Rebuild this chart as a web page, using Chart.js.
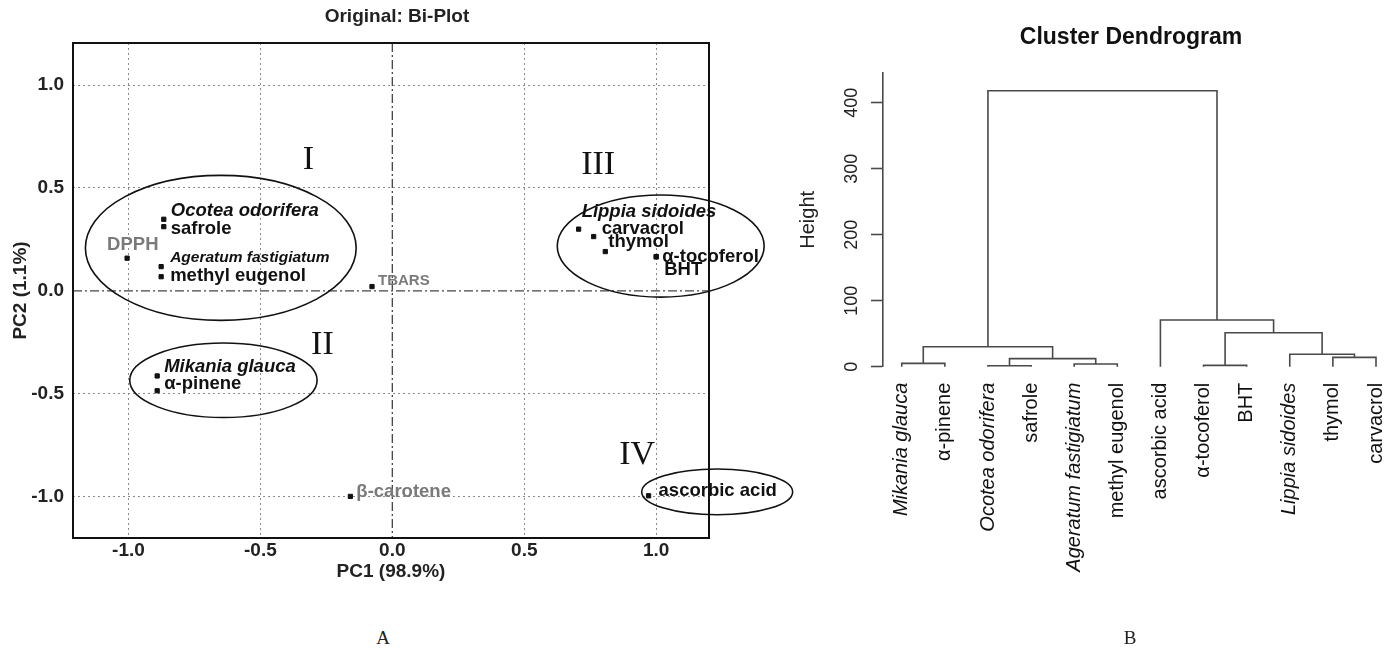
<!DOCTYPE html>
<html>
<head>
<meta charset="utf-8">
<script src="https://cdn.jsdelivr.net/npm/chart.js@4.4.1/dist/chart.umd.min.js"></script>
<style>
  body { margin: 0; background: #fff; width: 1388px; height: 649px; overflow: hidden; position: relative; }
  #biplotBox { position: absolute; left: 0; top: 0; width: 800px; height: 600px; }
  #dendroBox { position: absolute; left: 760px; top: 0; width: 628px; height: 649px; }
  .panel { position: absolute; top: 628px; width: 40px; text-align: center; line-height: 20px;
           font-family: "Liberation Serif", "Times New Roman", serif; font-size: 19px; color: #222; }
</style>
</head>
<body>
<div id="biplotBox"><canvas id="biplot" width="800" height="600"></canvas></div>
<div id="dendroBox"><canvas id="dendro" width="628" height="649"></canvas></div>
<div class="panel" style="left:363px">A</div>
<div class="panel" style="left:1110px">B</div>

<script>
// ---- Bi-plot data (PC1 / PC2 scores) ----
const sampleNames = ['Ocotea odorifera', 'safrole', 'Ageratum fastigiatum', 'methyl eugenol',
                     'Lippia sidoides', 'carvacrol', 'thymol', 'α-tocoferol', 'BHT',
                     'Mikania glauca', 'α-pinene', 'ascorbic acid'];
const samplePC1 = [-0.866, -0.866, -0.876, -0.876, 0.706, 0.763, 0.807, 1.0, 1.0, -0.891, -0.891, 0.971];
const samplePC2 = [0.348, 0.312, 0.118, 0.069, 0.300, 0.264, 0.191, 0.167, 0.165, -0.413, -0.485, -0.995];

const variableNames = ['DPPH', 'TBARS', 'β-carotene'];
const variablePC1 = [-1.005, -0.077, -0.159];
const variablePC2 = [0.159, 0.021, -0.998];

// groups circled on the bi-plot
const groupNames = ['I', 'II', 'III', 'IV'];
const groupCenterX = [-0.65, -0.64, 1.017, 1.231];
const groupCenterY = [0.209, -0.434, 0.218, -0.976];
const groupRadiusX = [0.513, 0.355, 0.392, 0.286];
const groupRadiusY = [0.352, 0.181, 0.248, 0.111];
const groupLabelX = [-0.318, -0.265, 0.78, 0.928];
const groupLabelY = [0.636, -0.262, 0.612, -0.796];

const pcTicks = [-1.0, -0.5, 0.0, 0.5, 1.0];

// ---- Dendrogram data ----
const leafNames = ['Mikania glauca', 'α-pinene', 'Ocotea odorifera', 'safrole', 'Ageratum fastigiatum',
                   'methyl eugenol', 'ascorbic acid', 'α-tocoferol', 'BHT', 'Lippia sidoides', 'thymol', 'carvacrol'];
const italicNames = ['Mikania glauca', 'Ocotea odorifera', 'Ageratum fastigiatum', 'Lippia sidoides'];
// hclust style: negative = leaf (1-based), positive = earlier merge (1-based)
const mergeLeft   = [-3, -8, -5, -1, 1, -11, -10, 4, 2, -7, 8];
const mergeRight  = [-4, -9, -6, -2, 3, -12, 6, 5, 7, 9, 10];
const mergeHeight = [1.5, 2, 4, 5, 12.3, 14.2, 18.8, 30.3, 51.5, 70.8, 418];
const heightTicks = [0, 100, 200, 300, 400];

const SANS = "'Liberation Sans', Arial, sans-serif";
Chart.defaults.font.family = SANS;
Chart.defaults.color = '#222';

// label placement (px from the point, left/middle of text)
const labelOffsets = {
  'DPPH': [-20, -13], 'Ocotea odorifera': [7, -8], 'safrole': [7, 2],
  'Ageratum fastigiatum': [9, -9], 'methyl eugenol': [9, -1], 'TBARS': [6, -6],
  'Lippia sidoides': [3, -17], 'carvacrol': [8, -8], 'thymol': [3, -10],
  'α-tocoferol': [6, 0], 'BHT': [8, 13], 'Mikania glauca': [7, -9], 'α-pinene': [7, -7],
  'β-carotene': [6, -5], 'ascorbic acid': [10, -5]
};
const labelSizes = { 'Ageratum fastigiatum': 15.5, 'TBARS': 15 };

const biplotDecor = {
  id: 'biplotDecor',
  afterDatasetsDraw(chart) {
    const ctx = chart.ctx;
    const xs = chart.scales.x, ys = chart.scales.y;
    const a = chart.chartArea;
    ctx.save();

    // zero lines (dash-dot)
    ctx.strokeStyle = '#444';
    ctx.lineWidth = 1.3;
    ctx.setLineDash([9, 3, 2, 3]);
    const x0 = xs.getPixelForValue(0), y0 = ys.getPixelForValue(0);
    ctx.beginPath();
    ctx.moveTo(x0, a.top); ctx.lineTo(x0, a.bottom);
    ctx.moveTo(a.left, y0); ctx.lineTo(a.right, y0);
    ctx.stroke();
    ctx.setLineDash([]);

    // frame
    ctx.strokeStyle = '#111';
    ctx.lineWidth = 2;
    ctx.strokeRect(a.left, a.top, a.right - a.left, a.bottom - a.top);

    // point labels
    ctx.textBaseline = 'middle';
    ctx.textAlign = 'left';
    chart.data.datasets.forEach(ds => {
      ctx.fillStyle = ds.labelColor;
      ds.data.forEach(p => {
        const off = labelOffsets[p.name] || [6, 0];
        const style = italicNames.includes(p.name) ? 'italic ' : '';
        const size = labelSizes[p.name] || 18.5;
        ctx.font = style + 'bold ' + size + 'px ' + SANS;
        ctx.fillText(p.name, xs.getPixelForValue(p.x) + off[0], ys.getPixelForValue(p.y) + off[1]);
      });
    });

    // group ellipses + roman numerals
    ctx.strokeStyle = '#111';
    ctx.lineWidth = 1.6;
    groupNames.forEach((g, i) => {
      const cx = xs.getPixelForValue(groupCenterX[i]);
      const cy = ys.getPixelForValue(groupCenterY[i]);
      const rx = Math.abs(xs.getPixelForValue(groupCenterX[i] + groupRadiusX[i]) - cx);
      const ry = Math.abs(ys.getPixelForValue(groupCenterY[i] + groupRadiusY[i]) - cy);
      ctx.beginPath();
      ctx.ellipse(cx, cy, rx, ry, 0, 0, Math.PI * 2);
      ctx.stroke();
    });
    ctx.fillStyle = '#111';
    ctx.textAlign = 'center';
    ctx.font = "34px 'Liberation Serif', 'Times New Roman', serif";
    groupNames.forEach((g, i) => {
      ctx.fillText(g, xs.getPixelForValue(groupLabelX[i]), ys.getPixelForValue(groupLabelY[i]));
    });

    // title
    ctx.font = 'bold 19px ' + SANS;
    ctx.fillStyle = '#222';
    ctx.fillText('Original: Bi-Plot', (a.left + a.right) / 2 + 6, 17);
    ctx.restore();
  }
};

new Chart(document.getElementById('biplot'), {
  type: 'scatter',
  data: {
    datasets: [{
      data: sampleNames.map((n, i) => ({ x: samplePC1[i], y: samplePC2[i], name: n })),
      backgroundColor: '#111', borderColor: '#111', labelColor: '#111',
      pointStyle: 'rect', pointRadius: 3, pointHoverRadius: 3
    }, {
      data: variableNames.map((n, i) => ({ x: variablePC1[i], y: variablePC2[i], name: n })),
      backgroundColor: '#111', borderColor: '#111', labelColor: '#7a7a7a',
      pointStyle: 'rect', pointRadius: 3, pointHoverRadius: 3
    }]
  },
  options: {
    responsive: false,
    animation: false,
    layout: { autoPadding: false, padding: { left: 0, top: 43, right: 91, bottom: 0 } },
    plugins: { legend: { display: false }, tooltip: { enabled: false } },
    scales: {
      x: {
        type: 'linear', min: -1.21, max: 1.2,
        afterBuildTicks: s => { s.ticks = pcTicks.map(v => ({ value: v })); },
        afterFit: s => { s.height = 62; },
        ticks: { padding: 1, font: { size: 19, weight: 'bold' }, color: '#222', callback: v => v.toFixed(1) },
        grid: { color: c => c.tick && c.tick.value === 0 ? 'rgba(0,0,0,0)' : '#8a8a8a', lineWidth: 1, drawTicks: false },
        border: { display: false, dash: [2, 3] },
        title: { display: true, text: 'PC1 (98.9%)', font: { size: 19, weight: 'bold' }, color: '#222', padding: { top: 0, bottom: 17 } }
      },
      y: {
        type: 'linear', min: -1.2, max: 1.204,
        afterBuildTicks: s => { s.ticks = pcTicks.map(v => ({ value: v })); },
        afterFit: s => { s.width = 73; },
        ticks: { padding: 9, font: { size: 19, weight: 'bold' }, color: '#222', callback: v => v.toFixed(1) },
        grid: { color: c => c.tick && c.tick.value === 0 ? 'rgba(0,0,0,0)' : '#8a8a8a', lineWidth: 1, drawTicks: false },
        border: { display: false, dash: [2, 3] },
        title: { display: true, text: 'PC2 (1.1%)', font: { size: 19, weight: 'bold' }, color: '#222', padding: { top: 9, bottom: 0 } }
      }
    }
  },
  plugins: [biplotDecor]
});

// ---- Dendrogram segments from the merge table ----
const nodeX = ref => ref < 0 ? (-ref - 1) : mergeX[ref - 1];
const nodeH = ref => ref < 0 ? 0 : mergeHeight[ref - 1];
const mergeX = [];
const segments = [];
mergeLeft.forEach((l, i) => {
  const r = mergeRight[i];
  const xl = nodeX(l), xr = nodeX(r), h = mergeHeight[i];
  mergeX.push((xl + xr) / 2);
  segments.push([
    { x: xl, y: nodeH(l) }, { x: xl, y: h }, { x: xr, y: h }, { x: xr, y: nodeH(r) }
  ]);
});

const dendroTitle = {
  id: 'dendroTitle',
  afterDraw(chart) {
    const ctx = chart.ctx;
    ctx.save();
    ctx.font = 'bold 23px ' + SANS;
    ctx.fillStyle = '#111';
    ctx.textAlign = 'center';
    ctx.textBaseline = 'middle';
    ctx.fillText('Cluster Dendrogram', 371, 38);
    ctx.restore();
  }
};

new Chart(document.getElementById('dendro'), {
  type: 'scatter',
  data: {
    datasets: segments.map(seg => ({
      data: seg, showLine: true, borderColor: '#4a4a4a', borderWidth: 1.6,
      pointRadius: 0, pointHoverRadius: 0, clip: false
    }))
  },
  options: {
    responsive: false,
    animation: false,
    layout: { autoPadding: false, padding: { left: 0, top: 73, right: 2, bottom: 0 } },
    plugins: { legend: { display: false }, tooltip: { enabled: false } },
    scales: {
      x: {
        type: 'linear', min: -0.434, max: 11.232,
        afterBuildTicks: s => { s.ticks = leafNames.map((n, i) => ({ value: i })); },
        // fixed height; drop the extra side padding chart.js adds for the rotated end labels
        afterFit: s => { s.height = 282.3; s.paddingLeft = 0; s.paddingRight = 0; },
        ticks: {
          autoSkip: false, minRotation: 90, maxRotation: 90, padding: 16, color: '#111',
          callback: v => leafNames[v],
          font: c => ({ size: 20, style: italicNames.includes(leafNames[c.index]) ? 'italic' : 'normal' })
        },
        grid: { display: false, drawTicks: false },
        border: { display: false }
      },
      y: {
        type: 'linear', min: 0, max: 445,
        afterBuildTicks: s => { s.ticks = heightTicks.map(v => ({ value: v })); },
        afterFit: s => { s.width = 123; s.paddingTop = 0; s.paddingBottom = 0; },
        ticks: { minRotation: 90, maxRotation: 90, crossAlign: 'center', padding: 4, color: '#222', font: { size: 18 } },
        grid: { drawOnChartArea: false, drawTicks: true, tickLength: 12, tickColor: '#4a4a4a', tickWidth: 1.6 },
        border: { display: true, color: '#4a4a4a', width: 1.6 },
        title: { display: true, text: 'Height', font: { size: 20 }, color: '#222', padding: { top: 36, bottom: 0 } }
      }
    }
  },
  plugins: [dendroTitle]
});
</script>
</body>
</html>
